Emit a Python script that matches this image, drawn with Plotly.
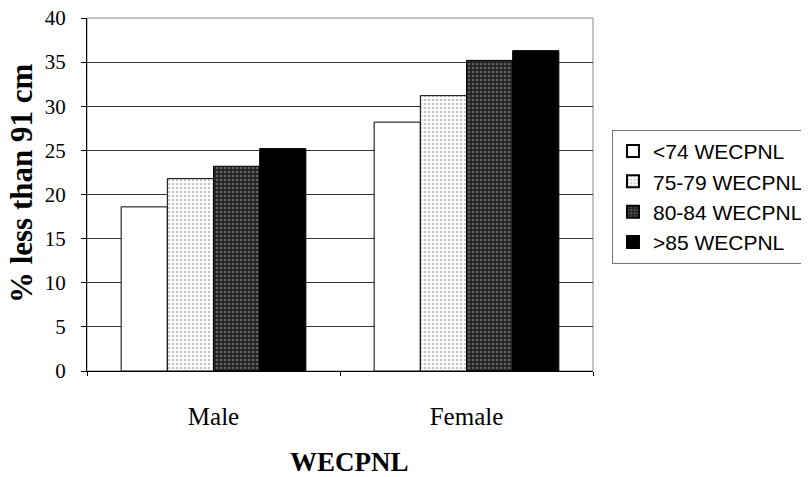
import plotly.graph_objects as go

categories = ["Male", "Female"]
series_names = ["<74 WECPNL", "75-79 WECPNL", "80-84 WECPNL", ">85 WECPNL"]
values_lt74 = [18.6, 28.2]
values_75_79 = [21.8, 31.2]
values_80_84 = [23.2, 35.2]
values_gt85 = [25.2, 36.3]
y_ticks = [0, 5, 10, 15, 20, 25, 30, 35, 40]

series_values = [values_lt74, values_75_79, values_80_84, values_gt85]
patterns = [
    dict(shape=""),
    dict(shape=".", bgcolor="white", fgcolor="#8a8a8a", size=4, solidity=0.35),
    dict(shape=".", bgcolor="#222222", fgcolor="#a0a0a0", size=4, solidity=0.35),
    dict(shape=""),
]
colors = ["white", "white", "#222222", "black"]

fig = go.Figure()
for name, vals, pat, col in zip(series_names, series_values, patterns, colors):
    fig.add_trace(go.Bar(
        x=categories, y=vals, name=name,
        marker=dict(color=col, line=dict(color="black", width=1), pattern=pat),
    ))

serif = "Liberation Serif, Times New Roman, serif"
fig.update_layout(
    width=801, height=469,
    margin=dict(l=79, r=216, t=10, b=106, autoexpand=False),
    paper_bgcolor="white", plot_bgcolor="white",
    barmode="group", bargap=0.27, bargroupgap=0,
    showlegend=True,
    legend=dict(
        x=1.0375, y=0.683, xanchor="left", yanchor="top",
        font=dict(family="Liberation Sans, Arial, sans-serif", size=21, color="black"),
        bordercolor="#777", borderwidth=1, bgcolor="rgba(0,0,0,0)",
        itemsizing="constant", tracegroupgap=0, itemwidth=30,
    ),
    xaxis=dict(
        automargin=False,
        tickfont=dict(family=serif, size=25, color="black"),
        showline=True, linecolor="black", linewidth=1, mirror=False,
        ticks="outside", tickson="boundaries", ticklen=4, tickcolor="black",
        ticklabelstandoff=23, ticklabeloverflow="allow",
        showgrid=False,
    ),
    yaxis=dict(
        automargin=False,
        range=[0, 40], tickvals=y_ticks,
        tickfont=dict(family=serif, size=21, color="black"),
        showline=True, linecolor="black", linewidth=1,
        ticks="outside", ticklen=5, tickcolor="black",
        ticklabelstandoff=11, ticklabeloverflow="allow",
        showgrid=True, gridcolor="#333", gridwidth=1,
        zeroline=False,
    ),
    annotations=[
        dict(text="<b>% less than 91 cm</b>", xref="paper", yref="paper",
             x=-0.128, y=0.533, xanchor="center", yanchor="middle", textangle=-90,
             showarrow=False, font=dict(family=serif, size=31, color="black")),
        dict(text="<b>WECPNL</b>", xref="paper", yref="paper",
             x=0.518, y=-0.258, xanchor="center", yanchor="middle",
             showarrow=False, font=dict(family=serif, size=27, color="black")),
    ],
)
fig.add_shape(type="rect", xref="paper", yref="paper", x0=0, y0=0, x1=1, y1=1,
              line=dict(color="#888", width=1), layer="below")

fig.write_html("out.html")
